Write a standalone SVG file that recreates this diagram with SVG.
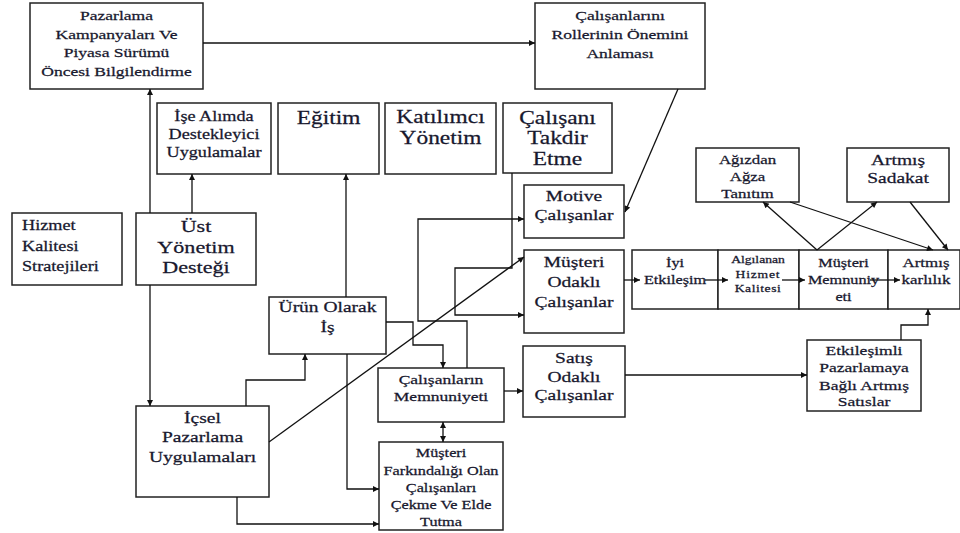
<svg xmlns="http://www.w3.org/2000/svg" width="960" height="533" viewBox="0 0 960 533">
<defs>
<marker id="ah" viewBox="0 0 10 10" refX="10" refY="5" markerWidth="8" markerHeight="6" markerUnits="userSpaceOnUse" orient="auto-start-reverse">
<path d="M0,0 L10,5 L0,10 z" fill="#111"/>
</marker>
<style>
.b{fill:#fff;stroke:#222;stroke-width:1.5}
.t{font-family:'Liberation Serif','Times New Roman',serif;fill:#18182e;stroke:#18182e;stroke-width:0.25;text-anchor:middle}
.l{text-anchor:start}
.c{fill:none;stroke:#111;stroke-width:1.3}
.a{marker-end:url(#ah)}
</style>
</defs>
<rect width="960" height="533" fill="#fff"/>

<g id="n-pazarlama">
<rect class="b" x="30" y="3" width="173" height="86"/>
<text class="t" font-size="13.5" transform="translate(116.5,0) scale(1.3,1)"><tspan x="0" y="20.5">Pazarlama</tspan><tspan x="0" y="39.5">Kampanyaları Ve</tspan><tspan x="0" y="57.5">Piyasa Sürümü</tspan><tspan x="0" y="76">Öncesi Bilgilendirme</tspan></text>
</g>
<g id="n-roller">
<rect class="b" x="535" y="3" width="170" height="86"/>
<text class="t" font-size="13.5" transform="translate(620,0) scale(1.3,1)"><tspan x="0" y="20.5">Çalışanlarını</tspan><tspan x="0" y="39.5">Rollerinin Önemini</tspan><tspan x="0" y="58.5">Anlaması</tspan></text>
</g>
<g id="n-ise-alim">
<rect class="b" x="157" y="103" width="114" height="71"/>
<text class="t" font-size="14" transform="translate(214,0) scale(1.3,1)"><tspan x="0" y="121.5">İşe Alımda</tspan><tspan x="0" y="139.5">Destekleyici</tspan><tspan x="0" y="157.5">Uygulamalar</tspan></text>
</g>
<g id="n-egitim">
<rect class="b" x="278" y="103" width="101" height="71"/>
<text class="t" font-size="18" transform="translate(328.5,0) scale(1.3,1)"><tspan x="0" y="124">Eğitim</tspan></text>
</g>
<g id="n-katilimci">
<rect class="b" x="385" y="103" width="111" height="71"/>
<text class="t" font-size="18" transform="translate(440.5,0) scale(1.3,1)"><tspan x="0" y="123">Katılımcı</tspan><tspan x="0" y="144">Yönetim</tspan></text>
</g>
<g id="n-takdir">
<rect class="b" x="503" y="103" width="109" height="70"/>
<text class="t" font-size="18" transform="translate(557.5,0) scale(1.3,1)"><tspan x="0" y="124">Çalışanı</tspan><tspan x="0" y="144">Takdir</tspan><tspan x="0" y="165">Etme</tspan></text>
</g>
<g id="n-hizmet-kalitesi">
<rect class="b" x="12" y="213" width="110" height="72"/>
<text class="t l" font-size="14" transform="translate(22,0) scale(1.3,1)"><tspan x="0" y="230">Hizmet</tspan><tspan x="0" y="251">Kalitesi</tspan><tspan x="0" y="271">Stratejileri</tspan></text>
</g>
<g id="n-ust-yonetim">
<rect class="b" x="136" y="213" width="120" height="72"/>
<text class="t" font-size="17" transform="translate(196,0) scale(1.3,1)"><tspan x="0" y="232">Üst</tspan><tspan x="0" y="253.5">Yönetim</tspan><tspan x="0" y="273.5">Desteği</tspan></text>
</g>
<g id="n-urun">
<rect class="b" x="269" y="297" width="117" height="57"/>
<text class="t" font-size="15" transform="translate(327.5,0) scale(1.3,1)"><tspan x="0" y="312">Ürün Olarak</tspan><tspan x="0" y="332">İş</tspan></text>
</g>
<g id="n-motive">
<rect class="b" x="524" y="185" width="100" height="53"/>
<text class="t" font-size="15" transform="translate(574,0) scale(1.3,1)"><tspan x="0" y="201">Motive</tspan><tspan x="0" y="220">Çalışanlar</tspan></text>
</g>
<g id="n-musteri-odakli">
<rect class="b" x="524" y="250" width="100" height="83"/>
<text class="t" font-size="15" transform="translate(574,0) scale(1.3,1)"><tspan x="0" y="267">Müşteri</tspan><tspan x="0" y="287">Odaklı</tspan><tspan x="0" y="307">Çalışanlar</tspan></text>
</g>
<g id="n-satis-odakli">
<rect class="b" x="523" y="346" width="102" height="71"/>
<text class="t" font-size="15" transform="translate(574,0) scale(1.3,1)"><tspan x="0" y="363">Satış</tspan><tspan x="0" y="382">Odaklı</tspan><tspan x="0" y="400">Çalışanlar</tspan></text>
</g>
<g id="n-calisan-memnuniyeti">
<rect class="b" x="378" y="368" width="126" height="54"/>
<text class="t" font-size="13.5" transform="translate(441,0) scale(1.3,1)"><tspan x="0" y="384.5">Çalışanların</tspan><tspan x="0" y="401.5">Memnuniyeti</tspan></text>
</g>
<g id="n-farkindalik">
<rect class="b" x="379" y="442" width="124" height="88"/>
<text class="t" font-size="12.5" transform="translate(441,0) scale(1.3,1)"><tspan x="0" y="457">Müşteri</tspan><tspan x="0" y="475">Farkındalığı Olan</tspan><tspan x="0" y="492">Çalışanları</tspan><tspan x="0" y="509">Çekme Ve Elde</tspan><tspan x="0" y="526">Tutma</tspan></text>
</g>
<g id="n-icsel">
<rect class="b" x="136" y="406" width="133" height="91"/>
<text class="t" font-size="15" transform="translate(202.5,0) scale(1.3,1)"><tspan x="0" y="423">İçsel</tspan><tspan x="0" y="442">Pazarlama</tspan><tspan x="0" y="462">Uygulamaları</tspan></text>
</g>
<g id="n-iyi-etkilesim">
<rect class="b" x="632" y="250" width="86" height="59"/>
<text class="t" font-size="12.5" transform="translate(675,0) scale(1.3,1)"><tspan x="0" y="267">İyi</tspan><tspan x="0" y="284">Etkileşim</tspan></text>
</g>
<g id="n-algilanan">
<rect class="b" x="718" y="250" width="81" height="59"/>
<text class="t" font-size="10.5" transform="translate(758,0) scale(1.3,1)"><tspan x="0" y="263.5">Algılanan</tspan><tspan x="0" y="278.5" letter-spacing="0.6">Hizmet</tspan><tspan x="0" y="292.5" letter-spacing="0.4">Kalitesi</tspan></text>
</g>
<g id="n-musteri-memnuniyeti">
<rect class="b" x="799" y="250" width="89" height="59"/>
<text class="t" font-size="12.5" transform="translate(843.5,0) scale(1.3,1)"><tspan x="0" y="267">Müşteri</tspan><tspan x="0" y="284">Memnuniy</tspan><tspan x="0" y="301">eti</tspan></text>
</g>
<g id="n-karlilik">
<rect class="b" x="888" y="250" width="72" height="59"/>
<text class="t" font-size="13" transform="translate(926,0) scale(1.3,1)"><tspan x="0" y="267">Artmış</tspan><tspan x="0" y="284">karlılık</tspan></text>
</g>
<g id="n-etkilesimli">
<rect class="b" x="807" y="340" width="114" height="71"/>
<text class="t" font-size="13.5" transform="translate(864,0) scale(1.3,1)"><tspan x="0" y="355.5">Etkileşimli</tspan><tspan x="0" y="372.5">Pazarlamaya</tspan><tspan x="0" y="390.5">Bağlı Artmış</tspan><tspan x="0" y="406.5">Satıslar</tspan></text>
</g>
<g id="n-agizdan">
<rect class="b" x="696" y="148" width="103" height="54"/>
<text class="t" font-size="13" transform="translate(747.5,0) scale(1.3,1)"><tspan x="0" y="164">Ağızdan</tspan><tspan x="0" y="181">Ağza</tspan><tspan x="0" y="198">Tanıtım</tspan></text>
</g>
<g id="n-sadakat">
<rect class="b" x="847" y="148" width="102" height="54"/>
<text class="t" font-size="15" transform="translate(898,0) scale(1.3,1)"><tspan x="0" y="165">Artmış</tspan><tspan x="0" y="183">Sadakat</tspan></text>
</g>

<g id="connectors">
<path class="c a" d="M203,43 H535"/>
<path class="c a" d="M150,213 V89"/>
<path class="c a" d="M150,285 V406"/>
<path class="c a" d="M192,213 V174"/>
<path class="c a" d="M346,297 V174"/>
<path class="c a" d="M246,406 V380 H305 V354"/>
<path class="c a" d="M347,354 V489 H379"/>
<path class="c a" d="M237,497 V524 H379"/>
<path class="c a" d="M269,442 L524,257"/>
<path class="c a" d="M386,322 H413 V345 H443 V368"/>
<path class="c a" d="M467,368 V321 H418 V219 H524"/>
<path class="c a" d="M512,173 V268 H455 V315 H524"/>
<path class="c a" d="M678,89 L625,212"/>
<path class="c a" d="M624,280 H640"/>
<path class="c a" d="M705,280 H728"/>
<path class="c a" d="M782,280 H805"/>
<path class="c a" d="M870,280 H900"/>
<path class="c a" d="M504,391 H523"/>
<path class="c a" d="M625,375 H807"/>
<path class="c a" d="M901,340 V325 H928 V309"/>
<path class="c a" d="M443,422 V442" marker-start="url(#ah)"/>
<path class="c a" d="M817,250 L763,202"/>
<path class="c a" d="M817,250 L877,202"/>
<path class="c a" d="M790,202 L933,250"/>
<path class="c a" d="M910,202 L948,250"/>
</g>
</svg>
